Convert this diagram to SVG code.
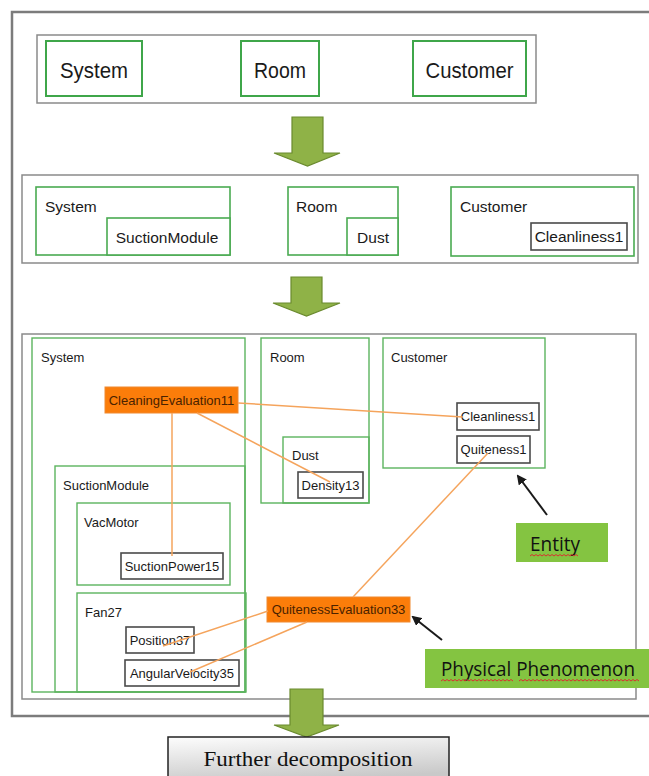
<svg xmlns="http://www.w3.org/2000/svg" width="649" height="776" viewBox="0 0 649 776">
  <defs>
    <style>
      .frame { fill: none; stroke: #7c7c7c; stroke-width: 2.5; }
      .panel { fill: #ffffff; stroke: #8a8a8a; stroke-width: 1.5; }
      .ent1 { fill: #ffffff; stroke: #3fa64a; stroke-width: 2; }
      .ent2 { fill: #ffffff; stroke: #4aab52; stroke-width: 1.6; }
      .ent3 { fill: none; stroke: #5cb45e; stroke-width: 1.4; }
      .leaf { fill: #ffffff; stroke: #4a4a4a; stroke-width: 1.6; }
      .phen { fill: #fb7d0a; stroke: #f08a30; stroke-width: 1; }
      .t1 { font-family: "Liberation Sans", Arial, sans-serif; font-size: 22px; fill: #1a1a1a; text-anchor: middle; }
      .t2 { font-family: "Liberation Sans", Arial, sans-serif; font-size: 15.5px; fill: #1a1a1a; }
      .t3 { font-family: "Liberation Sans", Arial, sans-serif; font-size: 13px; fill: #1a1a1a; }
      .tm { text-anchor: middle; }
      .tp { font-family: "Liberation Sans", Arial, sans-serif; font-size: 13px; fill: #4a2200; text-anchor: middle; }
      .lbl { fill: #84c441; }
      .tl { font-family: "Open Sans", "Noto Sans", sans-serif; font-size: 19.5px; fill: #111; }
      .wave { fill: none; stroke: #d93030; stroke-width: 1; }
      .link { fill: none; stroke: #f5a45c; stroke-width: 1.5; }
      .ptr { fill: none; stroke: #1a1a1a; stroke-width: 2; marker-end: url(#head); }
      .blk { fill: #8fb247; stroke: #6a8a2e; stroke-width: 1.2; }
    </style>
    <marker id="head" markerWidth="10" markerHeight="10" refX="8" refY="5" orient="auto" markerUnits="userSpaceOnUse">
      <path d="M0,0 L10,5 L0,10 Z" fill="#1a1a1a"/>
    </marker>
    <linearGradient id="grey" x1="0" y1="0" x2="0.3" y2="1">
      <stop offset="0" stop-color="#fdfdfd"/>
      <stop offset="1" stop-color="#c9c9c9"/>
    </linearGradient>
  </defs>

  <!-- outer frame -->
  <rect class="frame" x="12" y="12" width="660" height="704"/>

  <!-- level 1 -->
  <g id="level1">
    <rect class="panel" x="37" y="35" width="499" height="68"/>
    <g id="l1-system"><rect class="ent1" x="46" y="41" width="96" height="55"/><text class="t1" x="94" y="78" textLength="68" lengthAdjust="spacingAndGlyphs">System</text></g>
    <g id="l1-room"><rect class="ent1" x="241" y="41" width="78" height="55"/><text class="t1" x="280" y="78" textLength="52" lengthAdjust="spacingAndGlyphs">Room</text></g>
    <g id="l1-customer"><rect class="ent1" x="413" y="41" width="113" height="55"/><text class="t1" x="469.5" y="78" textLength="88" lengthAdjust="spacingAndGlyphs">Customer</text></g>
  </g>

  <g id="arrow1"><polygon class="blk" points="292,117 323,117 323,153 340,153 307.5,166 274,153 292,153"/></g>

  <!-- level 2 -->
  <g id="level2">
    <rect class="panel" x="22" y="175" width="616" height="88"/>
    <g id="l2-system">
      <rect class="ent2" x="36" y="187" width="194" height="68"/>
      <text class="t2" x="45" y="212">System</text>
    </g>
    <g id="l2-suction">
      <rect class="ent2" x="107" y="218" width="123" height="37"/>
      <text class="t2 tm" x="167" y="243">SuctionModule</text>
    </g>
    <g id="l2-room">
      <rect class="ent2" x="288" y="187" width="110" height="68"/>
      <text class="t2" x="296" y="212">Room</text>
    </g>
    <g id="l2-dust">
      <rect class="ent2" x="347" y="218" width="51" height="37"/>
      <text class="t2 tm" x="373" y="243">Dust</text>
    </g>
    <g id="l2-customer">
      <rect class="ent2" x="451" y="187" width="183" height="69"/>
      <text class="t2" x="460" y="212">Customer</text>
    </g>
    <g id="l2-cleanliness">
      <rect class="leaf" x="531" y="223" width="96" height="27"/>
      <text class="t2 tm" x="579" y="242">Cleanliness1</text>
    </g>
  </g>

  <g id="arrow2"><polygon class="blk" points="291,277 322,277 322,303 340,303 306.5,316 273,303 291,303"/></g>

  <!-- level 3 -->
  <rect class="panel" x="22" y="334" width="614" height="365"/>

  <g id="system">
    <rect class="ent3" x="32" y="338" width="213" height="354"/>
    <text class="t3" x="41" y="362">System</text>
  </g>
  <g id="suction-module">
    <rect class="ent3" x="55" y="466" width="190" height="226"/>
    <text class="t3" x="63" y="490">SuctionModule</text>
  </g>
  <g id="vac-motor">
    <rect class="ent3" x="77" y="503" width="153" height="82"/>
    <text class="t3" x="84" y="527">VacMotor</text>
  </g>
  <g id="fan27">
    <rect class="ent3" x="77" y="593" width="169" height="99"/>
    <text class="t3" x="85" y="617">Fan27</text>
  </g>
  <g id="room">
    <rect class="ent3" x="261" y="338" width="108" height="165"/>
    <text class="t3" x="270" y="362">Room</text>
  </g>
  <g id="dust">
    <rect class="ent3" x="283" y="437" width="86" height="66"/>
    <text class="t3" x="292" y="460">Dust</text>
  </g>
  <g id="customer">
    <rect class="ent3" x="383" y="338" width="162" height="130"/>
    <text class="t3" x="391" y="362">Customer</text>
  </g>

  <g id="cleanliness1"><rect class="leaf" x="457" y="403" width="82" height="27"/><text class="t3 tm" x="498" y="421">Cleanliness1</text></g>
  <g id="quiteness1"><rect class="leaf" x="457" y="436" width="73" height="27"/><text class="t3 tm" x="493.5" y="454">Quiteness1</text></g>
  <g id="density13"><rect class="leaf" x="298" y="472" width="65" height="26"/><text class="t3 tm" x="330.5" y="490">Density13</text></g>
  <g id="suction-power15"><rect class="leaf" x="121" y="553" width="102" height="26"/><text class="t3 tm" x="172" y="571">SuctionPower15</text></g>
  <g id="position37"><rect class="leaf" x="126" y="627" width="68" height="26"/><text class="t3 tm" x="160" y="645">Position37</text></g>
  <g id="angular-velocity35"><rect class="leaf" x="125" y="660" width="114" height="26"/><text class="t3 tm" x="182" y="678">AngularVelocity35</text></g>

  <g id="cleaning-evaluation11"><rect class="phen" x="105" y="387" width="133" height="26"/><text class="tp" x="171.5" y="405">CleaningEvaluation11</text></g>
  <g id="quiteness-evaluation33"><rect class="phen" x="267" y="597" width="143" height="25"/><text class="tp" x="338.5" y="614">QuitenessEvaluation33</text></g>

  <!-- relations between phenomena -->
  <g id="connectors">
    <line class="link" x1="238" y1="403" x2="463" y2="417"/>
    <line class="link" x1="172" y1="413" x2="172" y2="556"/>
    <line class="link" x1="197" y1="413" x2="330" y2="482"/>
    <line class="link" x1="353" y1="597" x2="488" y2="453"/>
    <line class="link" x1="268" y1="611" x2="163" y2="646"/>
    <line class="link" x1="307" y1="622" x2="190" y2="672"/>
    <line class="ptr" x1="547" y1="515" x2="518" y2="476"/>
    <line class="ptr" x1="442" y1="640" x2="413" y2="617"/>
  </g>

  <!-- legend labels -->
  <g id="entity-label">
    <rect class="lbl" x="516" y="523" width="92" height="39"/>
    <text class="tl" x="530" y="551" textLength="50" lengthAdjust="spacingAndGlyphs">Entity</text>
    <path class="wave" d="M530,556 l2,-1.5 l2,1.5 l2,-1.5 l2,1.5 l2,-1.5 l2,1.5 l2,-1.5 l2,1.5 l2,-1.5 l2,1.5 l2,-1.5 l2,1.5 l2,-1.5 l2,1.5 l2,-1.5 l2,1.5 l2,-1.5 l2,1.5 l2,-1.5 l2,1.5 l2,-1.5 l2,1.5 l2,-1.5 l2,1.5"/>
  </g>
  <g id="phenomenon-label">
    <rect class="lbl" x="425" y="649" width="224" height="39"/>
    <text class="tl" x="441" y="676" textLength="194" lengthAdjust="spacingAndGlyphs">Physical Phenomenon</text>
    <path class="wave" d="M441,681 l2,-1.5 l2,1.5 l2,-1.5 l2,1.5 l2,-1.5 l2,1.5 l2,-1.5 l2,1.5 l2,-1.5 l2,1.5 l2,-1.5 l2,1.5 l2,-1.5 l2,1.5 l2,-1.5 l2,1.5 l2,-1.5 l2,1.5 l2,-1.5 l2,1.5 l2,-1.5 l2,1.5 l2,-1.5 l2,1.5 l2,-1.5 l2,1.5 l2,-1.5 l2,1.5 l2,-1.5 l2,1.5 l2,-1.5 l2,1.5 l2,-1.5 l2,1.5 l2,-1.5 l2,1.5"/>
    <path class="wave" d="M519,681 l2,-1.5 l2,1.5 l2,-1.5 l2,1.5 l2,-1.5 l2,1.5 l2,-1.5 l2,1.5 l2,-1.5 l2,1.5 l2,-1.5 l2,1.5 l2,-1.5 l2,1.5 l2,-1.5 l2,1.5 l2,-1.5 l2,1.5 l2,-1.5 l2,1.5 l2,-1.5 l2,1.5 l2,-1.5 l2,1.5 l2,-1.5 l2,1.5 l2,-1.5 l2,1.5 l2,-1.5 l2,1.5 l2,-1.5 l2,1.5 l2,-1.5 l2,1.5 l2,-1.5 l2,1.5 l2,-1.5 l2,1.5 l2,-1.5 l2,1.5 l2,-1.5 l2,1.5 l2,-1.5 l2,1.5 l2,-1.5 l2,1.5 l2,-1.5 l2,1.5 l2,-1.5 l2,1.5 l2,-1.5 l2,1.5 l2,-1.5 l2,1.5 l2,-1.5 l2,1.5 l2,-1.5 l2,1.5 l2,-1.5 l2,1.5"/>
  </g>

  <g id="arrow3"><polygon class="blk" points="290,689 323,689 323,725 339,725 306.5,737 274,725 290,725"/></g>

  <g id="further">
    <rect x="168" y="737" width="281" height="45" fill="url(#grey)" stroke="#222" stroke-width="1.5"/>
    <text x="308" y="766" font-family="'Liberation Serif', 'Times New Roman', serif" font-size="20" fill="#111" text-anchor="middle" textLength="209" lengthAdjust="spacingAndGlyphs">Further decomposition</text>
  </g>
</svg>
